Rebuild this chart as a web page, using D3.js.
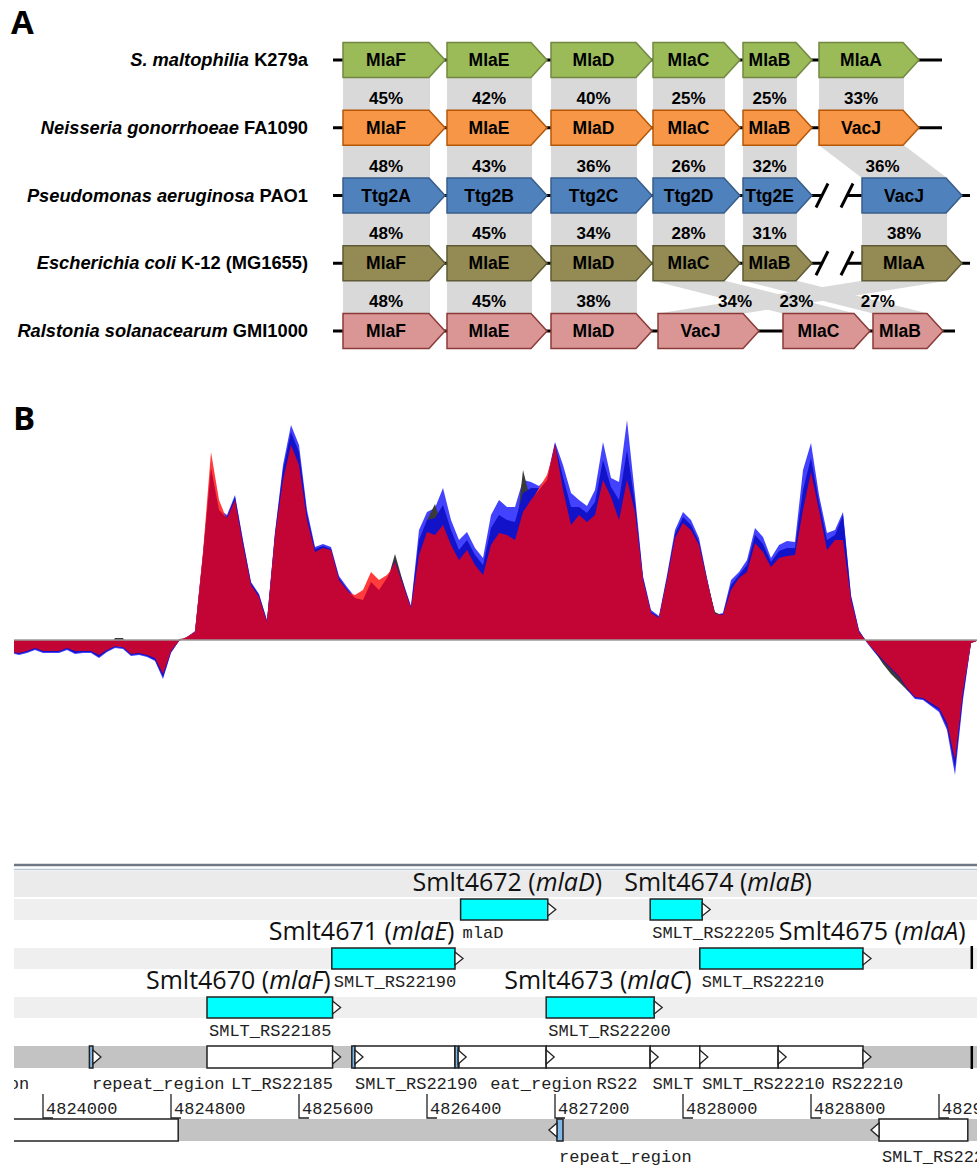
<!DOCTYPE html>
<html>
<head>
<meta charset="utf-8">
<script src="https://cdn.jsdelivr.net/npm/d3@7"></script>
<style>
  body { margin: 0; background: #fff; }
  svg { display: block; }
</style>
</head>
<body>
<div id="chart"></div>
<script>
// ---- panel A data ----
var species = [
  ["S. maltophilia", "K279a"],
  ["Neisseria gonorrhoeae", "FA1090"],
  ["Pseudomonas aeruginosa", "PAO1"],
  ["Escherichia coli", "K-12 (MG1655)"],
  ["Ralstonia solanacearum", "GMI1000"]
];
var geneNames = [
  ["MlaF", "MlaE", "MlaD", "MlaC", "MlaB", "MlaA"],
  ["MlaF", "MlaE", "MlaD", "MlaC", "MlaB", "VacJ"],
  ["Ttg2A", "Ttg2B", "Ttg2C", "Ttg2D", "Ttg2E", "VacJ"],
  ["MlaF", "MlaE", "MlaD", "MlaC", "MlaB", "MlaA"],
  ["MlaF", "MlaE", "MlaD", "VacJ", "MlaC", "MlaB"]
];
var geneStarts = [
  [10, 114, 218, 320, 410, 486],
  [10, 114, 218, 320, 410, 486],
  [10, 114, 218, 320, 410, 529],
  [10, 114, 218, 320, 410, 529],
  [10, 114, 218, 325, 450, 540]
];
var geneEnds = [
  [112, 214, 319, 407, 479, 586],
  [112, 214, 319, 407, 479, 586],
  [112, 214, 319, 407, 479, 629],
  [112, 214, 319, 407, 479, 629],
  [112, 214, 319, 426, 537, 610]
];
var rowEnds = [609, 609, 637, 637, 622];
var rowBreaks = [null, null, [489, 514], [489, 514], null];
var identity = [
  [45, 42, 40, 25, 25, 33],
  [48, 43, 36, 26, 32, 36],
  [48, 45, 34, 28, 31, 38],
  [48, 45, 38, 34, 23, 27]
];
var linkFrom = [[0, 1, 2, 3, 4, 5], [0, 1, 2, 3, 4, 5], [0, 1, 2, 3, 4, 5], [0, 1, 2, 5, 3, 4]];
var linkTo   = [[0, 1, 2, 3, 4, 5], [0, 1, 2, 3, 4, 5], [0, 1, 2, 3, 4, 5], [0, 1, 2, 3, 4, 5]];

// ---- panel B data (coverage, one value per 50 bp) ----
var covStart = 4823800, covStep = 50;
var covBlueLight = [
  -13,-15,-13,-10,-13,-13,-13,-10,-14,-13,
  -13,-18,-12,-8,-9,-16,-15,-17,-21,-39,
  -13,-1,3,9,86,172,131,125,145,100,
  58,46,20,108,175,215,195,130,93,96,
  93,64,53,43,38,50,52,60,80,58,
  34,110,128,132,152,120,100,108,92,82,
  125,140,133,133,160,158,154,162,198,175,
  147,140,134,150,198,162,158,220,145,64,
  30,24,65,110,128,120,102,62,25,27,
  60,68,80,112,103,82,95,99,98,170,
  197,145,107,110,128,45,10,-3,-13,-22,
  -30,-38,-50,-59,-60,-66,-72,-90,-135,-60,
  -3,0
];
var covGrey = [
  -11,-12,-10,-7,-10,-10,-10,-7,-10,-10,
  -10,-14,-9,2,2,-13,-12,-14,-17,-32,
  -10,1,2,7,80,165,125,118,135,90,
  52,42,17,100,155,190,170,115,85,88,
  86,57,48,40,38,50,48,58,86,58,
  30,80,120,136,110,90,78,85,72,62,
  90,103,100,96,170,138,145,155,190,145,
  110,120,113,120,155,138,115,155,123,58,
  26,21,58,98,112,105,90,58,28,24,
  48,60,65,93,84,70,78,80,82,125,
  160,125,86,96,95,38,7,-2,-12,-24,
  -34,-42,-50,-56,-57,-62,-66,-80,-115,-48,
  -3,0
];
var covBlueDark = [
  -12,-14,-12,-9,-12,-12,-12,-9,-13,-12,
  -12,-17,-11,-7,-8,-15,-14,-16,-20,-37,
  -12,-1,3,8,85,170,130,123,143,98,
  57,45,19,106,170,208,188,126,91,94,
  91,62,51,42,38,50,51,60,79,56,
  33,100,120,122,135,110,90,100,85,75,
  112,125,120,118,147,152,152,160,196,163,
  133,133,127,138,180,153,140,190,137,62,
  28,23,62,106,123,115,98,61,25,26,
  55,65,75,105,96,78,89,92,92,150,
  182,138,100,105,125,43,9,-2,-12,-21,
  -29,-37,-49,-58,-59,-65,-70,-87,-128,-56,
  -3,0
];
var covRed = [
  -11,-12,-10,-7,-10,-10,-10,-7,-10,-10,
  -10,-14,-9,-6,-7,-13,-12,-14,-17,-32,
  -10,0,3,8,88,188,140,120,135,90,
  52,40,16,100,155,190,170,115,85,90,
  88,58,48,45,50,68,60,65,75,52,
  30,80,102,100,110,90,76,86,72,62,
  90,100,100,96,122,138,152,165,192,145,
  110,120,113,120,155,138,115,155,123,58,
  26,21,58,98,112,105,90,58,24,24,
  48,58,65,93,84,70,78,80,82,125,
  160,125,86,96,95,38,7,-2,-11,-19,
  -27,-35,-47,-56,-57,-62,-66,-80,-115,-48,
  -3,0
];
var covCrimson = [
  -12,-13,-11,-8,-11,-11,-11,-8,-11,-11,
  -11,-15,-10,-6,-7,-14,-13,-15,-18,-34,
  -11,-1,3,8,85,172,130,122,140,95,
  55,43,18,105,160,195,175,120,88,92,
  90,60,50,42,40,58,50,62,78,55,
  32,85,108,105,115,95,80,90,75,65,
  95,107,105,100,128,140,150,160,196,150,
  115,125,118,125,160,143,120,160,128,60,
  27,22,60,102,117,110,95,60,26,25,
  50,62,68,97,88,73,82,84,85,130,
  168,130,90,100,100,40,8,-2,-11,-20,
  -28,-36,-48,-57,-58,-63,-68,-83,-120,-50,
  -3,0
];

// ---- panel C data (genome coordinates) ----
var smltIds  = ["Smlt4670", "Smlt4671", "Smlt4672", "Smlt4673", "Smlt4674", "Smlt4675"];
var cdsNames = ["mlaF", "mlaE", "mlaD", "mlaC", "mlaB", "mlaA"];
var cdsTags  = ["SMLT_RS22185", "SMLT_RS22190", "mlaD", "SMLT_RS22200", "SMLT_RS22205", "SMLT_RS22210"];
var cdsStart = [4825025, 4825805, 4826610, 4827145, 4827795, 4828105];
var cdsEnd   = [4825810, 4826575, 4827155, 4827820, 4828120, 4829125];
var cdsFrame = [3, 2, 1, 3, 1, 2];
var fwdStart = [4825025, 4825945, 4826600, 4827145, 4827795, 4828105, 4828595];
var fwdEnd   = [4825810, 4826575, 4827145, 4827795, 4828105, 4828595, 4829125];
var fwdRepeatStart = [4824290, 4825930, 4826575];
var fwdRepeatEnd   = [4824312, 4825950, 4826595];
var revStart = [4823500, 4829225];
var revEnd   = [4824845, 4829780];
var revRepeatStart = [4827212];
var revRepeatEnd   = [4827250];
var fwdLabelText = ["repeat_region", "repeat_region", "LT_RS22185", "SMLT_RS22190", "eat_region", "RS22", "SMLT", "SMLT_RS22210", "RS22210"];
var fwdLabelPos  = [4823085, 4824306, 4825175, 4825950, 4826795, 4827460, 4827810, 4828120, 4828930];
var revLabelText = ["repeat_region", "SMLT_RS22215"];
var revLabelPos  = [4827225, 4829244];
var scaleTicks = [4824000, 4824800, 4825600, 4826400, 4827200, 4828000, 4828800, 4829600];
var seqEnd = 4829805;

// ---- styles ----
var rowFill   = ["#9BBB59", "#F79646", "#4F81BD", "#948A54", "#D99694"];
var rowStroke = ["#71893F", "#B65708", "#385D8A", "#5E5A35", "#8C3A38"];
var covColors = ["#4242FF", "#3A3A3A", "#1212C8", "#FF3B3B", "#C30535"];
var bold = "'Liberation Sans', Arial, sans-serif";
var mono = "'Liberation Mono', 'Courier New', monospace";
var sans = "'Open Sans', 'Noto Sans', sans-serif";

var W = 977, H = 1167;
var svg = d3.select("#chart").append("svg")
  .attr("width", W)
  .attr("height", H);

svg.append("text").text("A")
  .attr("x", 11).attr("y", 34)
  .attr("font-family", sans).attr("font-weight", "bold").attr("font-size", 33);
svg.append("text").text("B")
  .attr("x", 13).attr("y", 430)
  .attr("font-family", sans).attr("font-weight", "bold").attr("font-size", 33);

// ================= panel A =================
var ax = d3.scaleLinear().domain([0, 640]).range([333, 973]);
var ay = d3.scaleLinear().domain([0, 4]).range([60, 331]);
var AH = 35, TIP = 16;
var pa = svg.append("g").attr("id", "panelA");

function bodyMid(r, k) {
  return (ax(geneStarts[r][k]) + ax(geneEnds[r][k]) - TIP) / 2;
}

// shaded homology links
identity.forEach(function(pcts, g) {
  pcts.forEach(function(p, k) {
    var f = linkFrom[g][k], t = linkTo[g][k];
    var yTop = ay(g) + AH / 2, yBot = ay(g + 1) - AH / 2;
    var pts = [
      [ax(geneStarts[g][f]), yTop],
      [ax(geneEnds[g][f]) - TIP + 1, yTop],
      [ax(geneEnds[g + 1][t]) - TIP + 1, yBot],
      [ax(geneStarts[g + 1][t]), yBot]
    ];
    pa.append("path")
      .attr("d", d3.line()(pts) + "Z")
      .attr("fill", "#D9D9D9");
  });
});

identity.forEach(function(pcts, g) {
  pcts.forEach(function(p, k) {
    var f = linkFrom[g][k], t = linkTo[g][k];
    var uc = bodyMid(g, f), lc = bodyMid(g + 1, t);
    var frac = (g == 3 && f != t) ? 0.83 : 0.5;
    pa.append("text")
      .text(p + "%")
      .attr("x", uc + frac * (lc - uc))
      .attr("y", (ay(g) + ay(g + 1)) / 2 + 10)
      .attr("text-anchor", "middle")
      .attr("font-family", bold).attr("font-weight", "bold").attr("font-size", 17);
  });
});

// backbone lines
species.forEach(function(sp, r) {
  var y = ay(r);
  var segs = rowBreaks[r] ? [[0, rowBreaks[r][0]], [rowBreaks[r][1], rowEnds[r]]] : [[0, rowEnds[r]]];
  segs.forEach(function(s) {
    pa.append("line")
      .attr("x1", ax(s[0])).attr("x2", ax(s[1]))
      .attr("y1", y).attr("y2", y)
      .attr("stroke", "#000").attr("stroke-width", 3);
  });
  if (rowBreaks[r]) {
    rowBreaks[r].forEach(function(b) {
      pa.append("line")
        .attr("x1", ax(b) - 6).attr("y1", y + 12)
        .attr("x2", ax(b) + 6).attr("y2", y - 12)
        .attr("stroke", "#000").attr("stroke-width", 3);
    });
  }
});

// gene arrows
species.forEach(function(sp, r) {
  var y = ay(r);
  geneNames[r].forEach(function(name, k) {
    var x0 = ax(geneStarts[r][k]), x1 = ax(geneEnds[r][k]), b = x1 - TIP;
    var pts = [[x0, y - AH / 2], [b, y - AH / 2], [x1, y], [b, y + AH / 2], [x0, y + AH / 2]];
    pa.append("path")
      .attr("d", d3.line()(pts) + "Z")
      .attr("fill", rowFill[r])
      .attr("stroke", rowStroke[r])
      .attr("stroke-width", 1.5);
    pa.append("text")
      .text(name)
      .attr("x", (x0 + b) / 2)
      .attr("y", y + 6)
      .attr("text-anchor", "middle")
      .attr("font-family", bold).attr("font-weight", "bold").attr("font-size", 17.5);
  });

  var lab = pa.append("text")
    .attr("x", 308).attr("y", y + 6)
    .attr("text-anchor", "end")
    .attr("font-family", bold).attr("font-weight", "bold").attr("font-size", 18.3);
  lab.append("tspan").attr("font-style", "italic").text(sp[0] + " ");
  lab.append("tspan").text(sp[1]);
});

// ================= shared genome scale =================
var gx = d3.scaleLinear().domain([4824000, 4829600]).range([43, 939]);

svg.append("defs").append("clipPath").attr("id", "clipG")
  .append("rect").attr("x", 14).attr("y", 0).attr("width", W - 14).attr("height", H);

// ================= panel B =================
var by = d3.scaleLinear().domain([-150, 225]).range([790, 415]);
var pb = svg.append("g").attr("clip-path", "url(#clipG)");
var covSeries = [covBlueLight, covGrey, covBlueDark, covRed, covCrimson];

var area = d3.area()
  .x(function(d, i) { return gx(covStart + covStep * i); })
  .y0(by(0))
  .y1(function(d) { return by(d); });

covSeries.forEach(function(s, j) {
  pb.append("path")
    .datum(s)
    .attr("d", area)
    .attr("fill", covColors[j]);
});

pb.append("line")
  .attr("x1", 14).attr("x2", W)
  .attr("y1", by(0)).attr("y2", by(0))
  .attr("stroke", "#9A9A9A").attr("stroke-width", 1.5);

// ================= panel C =================
var pc = svg.append("g").attr("clip-path", "url(#clipG)");
var frameTop = { 1: 899, 2: 948, 3: 997 };
var FH = 21;
var fwdY = 1046, revY = 1119, SH = 22;

pc.append("line").attr("x1", 14).attr("x2", W).attr("y1", 865).attr("y2", 865)
  .attr("stroke", "#6E7885").attr("stroke-width", 2.5);
pc.append("line").attr("x1", 14).attr("x2", W).attr("y1", 869.5).attr("y2", 869.5)
  .attr("stroke", "#B9C6D3").attr("stroke-width", 1.5);
pc.append("rect").attr("x", 14).attr("y", 871).attr("width", W).attr("height", 26).attr("fill", "#EBEBEB");
[1, 2, 3].forEach(function(f) {
  pc.append("rect").attr("x", 14).attr("y", frameTop[f]).attr("width", W).attr("height", FH)
    .attr("fill", "#EFEFEF");
});
pc.append("rect").attr("x", 14).attr("y", fwdY).attr("width", W).attr("height", SH).attr("fill", "#C3C3C3");
pc.append("rect").attr("x", 14).attr("y", revY).attr("width", W).attr("height", SH).attr("fill", "#C3C3C3");

function tipPath(x, top, h, dir) {
  var pts = [[x, top + 4], [x + 8 * dir, top + h / 2], [x, top + h - 4]];
  return d3.line()(pts) + "Z";
}

function feature(x0, x1, top, h, fill) {
  pc.append("rect")
    .attr("x", x0).attr("y", top)
    .attr("width", x1 - x0).attr("height", h)
    .attr("fill", fill).attr("stroke", "#222").attr("stroke-width", 1.5);
}

function tip(x, top, h, dir) {
  pc.append("path")
    .attr("d", tipPath(x, top, h, dir))
    .attr("fill", "#fff").attr("stroke", "#222").attr("stroke-width", 1.3);
}

// cds boxes in frames
cdsNames.forEach(function(n, k) {
  var top = frameTop[cdsFrame[k]];
  var x0 = gx(cdsStart[k]), x1 = gx(cdsEnd[k]);
  feature(x0, x1, top, FH, "#00FFFF");
  tip(x1, top, FH, 1);
  pc.append("text")
    .text(cdsTags[k])
    .attr("x", x0 + 2).attr("y", top + FH + 18)
    .attr("font-family", mono).attr("font-size", 17).attr("fill", "#222");
});

var bigLabelDx = [-61, -63, -48, -42, -26, 79];
cdsNames.forEach(function(n, k) {
  var top = frameTop[cdsFrame[k]];
  var t = pc.append("text")
    .attr("x", gx(cdsStart[k]) + bigLabelDx[k])
    .attr("y", top - 8)
    .attr("font-family", sans).attr("font-size", 25).attr("fill", "#111");
  t.append("tspan").text(smltIds[k] + " (");
  t.append("tspan").attr("font-style", "italic").text(n);
  t.append("tspan").text(")");
});

// forward strand
fwdStart.forEach(function(s, k) {
  feature(gx(s), gx(fwdEnd[k]), fwdY, SH, "#fff");
});
fwdStart.forEach(function(s, k) {
  tip(gx(fwdEnd[k]), fwdY, SH, 1);
});
fwdRepeatStart.forEach(function(s, k) {
  feature(gx(s), gx(fwdRepeatEnd[k]), fwdY, SH, "#7DB8E8");
  tip(gx(fwdRepeatEnd[k]), fwdY, SH, 1);
});

// reverse strand
revStart.forEach(function(s, k) {
  feature(gx(s), gx(revEnd[k]), revY, SH, "#fff");
  tip(gx(s), revY, SH, -1);
});
revRepeatStart.forEach(function(s, k) {
  feature(gx(s), gx(revRepeatEnd[k]), revY, SH, "#7DB8E8");
  tip(gx(s), revY, SH, -1);
});

// sequence end marks
[frameTop[2] - 2, fwdY].forEach(function(t) {
  pc.append("line")
    .attr("x1", gx(seqEnd)).attr("x2", gx(seqEnd))
    .attr("y1", t).attr("y2", t + SH + 1)
    .attr("stroke", "#000").attr("stroke-width", 2.5);
});

fwdLabelText.forEach(function(s, k) {
  pc.append("text").text(s)
    .attr("x", gx(fwdLabelPos[k])).attr("y", 1089)
    .attr("font-family", mono).attr("font-size", 17).attr("fill", "#222");
});
revLabelText.forEach(function(s, k) {
  pc.append("text").text(s)
    .attr("x", gx(revLabelPos[k])).attr("y", 1162)
    .attr("font-family", mono).attr("font-size", 17).attr("fill", "#222");
});

// scale ticks
scaleTicks.forEach(function(t) {
  var x = gx(t);
  pc.append("path")
    .attr("d", "M" + x + ",1094L" + x + ",1118L" + (x + 10) + ",1118")
    .attr("fill", "none").attr("stroke", "#222").attr("stroke-width", 1.3);
  pc.append("text").text(t)
    .attr("x", x + 3).attr("y", 1114)
    .attr("font-family", mono).attr("font-size", 17).attr("fill", "#222");
});
</script>
</body>
</html>
